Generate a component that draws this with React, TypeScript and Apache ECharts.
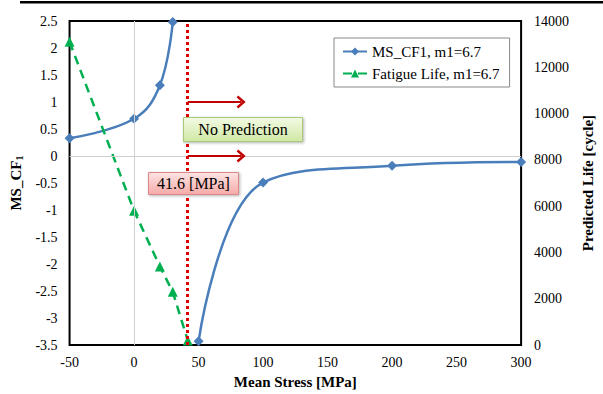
import React, { useEffect, useRef } from "react";
import * as echarts from "echarts";

const stressMs = [-50, 0, 20, 30, 40, 50, 100, 200, 300];
const msCf1 = [0.33, 0.69, 1.31, 2.48, null, -3.43, -0.49, -0.18, -0.11];
const stressLife = [-50, 0, 20, 30, 41.6];
const fatigueLife = [13100, 5800, 3400, 2300, 200];
const limitStress = 41.6;
const arrowEnd = 83;
const arrowLevels = [1, 0];
const legendNames = ["MS_CF1, m1=6.7", "Fatigue Life, m1=6.7"];

const SERIF = "'Liberation Serif', 'Times New Roman', serif";
const chevron = "path://M10,0 L20,10 L17,12 L10,5 L3,12 L0,10 Z";

export default function App() {
  const ref = useRef<HTMLDivElement>(null);
  useEffect(() => {
    if (!ref.current) return;
    const chart = echarts.init(ref.current, null, { renderer: "svg" });
    const tickLabel = { color: "#000", fontFamily: SERIF, fontSize: 14 };
    const nameStyle = { color: "#000", fontFamily: SERIF, fontSize: 15, fontWeight: "bold" as const };
    chart.setOption({
      animation: false,
      backgroundColor: "#fff",
      grid: { left: 69, right: 73, top: 21, bottom: 47, show: true, borderColor: "#000", borderWidth: 2, backgroundColor: "transparent" },
      legend: {
        data: legendNames,
        orient: "vertical",
        left: 334,
        top: 38,
        borderColor: "#888",
        borderWidth: 1,
        padding: [6, 10, 6, 8],
        itemWidth: 24,
        itemHeight: 10,
        itemGap: 7,
        textStyle: { color: "#000", fontFamily: SERIF, fontSize: 15 },
      },
      xAxis: {
        type: "value",
        min: -50,
        max: 300,
        interval: 50,
        name: "Mean Stress [MPa]",
        nameLocation: "middle",
        nameGap: 27,
        nameTextStyle: nameStyle,
        axisLine: { show: false },
        axisTick: { show: false },
        splitLine: { show: false },
        axisLabel: { ...tickLabel, margin: 10 },
      },
      yAxis: [
        {
          type: "value",
          min: -3.5,
          max: 2.5,
          interval: 0.5,
          name: "{a|MS_CF}{b|1}",
          nameLocation: "middle",
          nameRotate: 90,
          nameGap: 38,
          nameTextStyle: {
            ...nameStyle,
            rich: {
              a: { fontFamily: SERIF, fontSize: 15, fontWeight: "bold", color: "#000" },
              b: { fontFamily: SERIF, fontSize: 10, fontWeight: "bold", color: "#000", padding: [8, 0, 0, 0] },
            },
          },
          axisLine: { show: false },
          axisTick: { show: false },
          splitLine: { show: false },
          axisLabel: { ...tickLabel, margin: 12 },
        },
        {
          type: "value",
          min: 0,
          max: 14000,
          interval: 2000,
          position: "right",
          name: "Predicted Life [cycle]",
          nameLocation: "middle",
          nameRotate: 90,
          nameGap: 52,
          nameTextStyle: nameStyle,
          axisLine: { show: false },
          axisTick: { show: false },
          splitLine: { show: false },
          axisLabel: { ...tickLabel, margin: 13, formatter: (v: number) => String(v) },
        },
      ],
      series: [
        {
          type: "line",
          name: "zero-lines",
          data: [],
          z: 1,
          silent: true,
          markLine: {
            silent: true,
            symbol: ["none", "none"],
            label: { show: false },
            lineStyle: { color: "#d0d0d0", width: 1, type: "solid" },
            emphasis: { disabled: true },
            data: [{ xAxis: 0 }, { yAxis: 0 }],
          },
        },
        {
          type: "line",
          name: legendNames[0],
          data: stressMs.map((x, i) => [x, msCf1[i]]),
          yAxisIndex: 0,
          smooth: 0.4,
          connectNulls: false,
          symbol: "diamond",
          symbolSize: 10,
          itemStyle: { color: "#4A7EBB" },
          lineStyle: { color: "#4A7EBB", width: 2.5 },
          z: 3,
          markLine: {
            silent: true,
            symbol: ["none", "none"],
            label: { show: false },
            emphasis: { disabled: true },
            data: [
              { xAxis: limitStress, lineStyle: { color: "#E00000", width: 3, type: [3, 3] } },
              ...arrowLevels.map((lv) => [
                { coord: [limitStress, lv], symbol: "none", lineStyle: { color: "#C00000", width: 2, type: "solid" } },
                { coord: [arrowEnd, lv], symbol: chevron, symbolSize: [13, 9] },
              ]),
            ],
          },
        },
        {
          type: "line",
          name: legendNames[1],
          data: stressLife.map((x, i) => [x, fatigueLife[i]]),
          yAxisIndex: 1,
          symbol: "triangle",
          symbolSize: 10,
          itemStyle: { color: "#00B050" },
          lineStyle: { color: "#00B050", width: 2.5, type: [9, 6] },
          z: 3,
        },
      ],
      graphic: [
        { type: "rect", left: 20, top: 1, z: 100, shape: { width: 583, height: 2.5 }, style: { fill: "#000" }, silent: true },
        {
          type: "group",
          left: 183,
          top: 117,
          z: 100,
          children: [
            {
              type: "rect",
              z: 100,
              shape: { x: 0, y: 0, width: 119, height: 24 },
              style: {
                fill: new echarts.graphic.LinearGradient(0, 0, 0, 1, [
                  { offset: 0, color: "#f3fae3" },
                  { offset: 1, color: "#cfe8a6" },
                ]),
                stroke: "#a9c97a",
                lineWidth: 1,
                shadowBlur: 3,
                shadowOffsetX: 1,
                shadowOffsetY: 1,
                shadowColor: "rgba(0,0,0,0.3)",
              },
            },
            {
              type: "text",
              z: 101,
              style: { x: 59.5, y: 12, text: "No Prediction", fill: "#000", font: `16px ${SERIF}`, align: "center", verticalAlign: "middle" },
            },
          ],
        },
        {
          type: "group",
          left: 148,
          top: 172,
          z: 100,
          children: [
            {
              type: "rect",
              z: 100,
              shape: { x: 0, y: 0, width: 90, height: 22 },
              style: {
                fill: new echarts.graphic.LinearGradient(0, 0, 0, 1, [
                  { offset: 0, color: "#fde4e3" },
                  { offset: 1, color: "#f5aaa8" },
                ]),
                stroke: "#d98a88",
                lineWidth: 1,
                shadowBlur: 3,
                shadowOffsetX: 1,
                shadowOffsetY: 1,
                shadowColor: "rgba(0,0,0,0.3)",
              },
            },
            {
              type: "text",
              z: 101,
              style: { x: 45, y: 11, text: "41.6 [MPa]", fill: "#000", font: `16px ${SERIF}`, align: "center", verticalAlign: "middle" },
            },
          ],
        },
      ],
    });
    return () => chart.dispose();
  }, []);
  return <div ref={ref} style={{ position: "fixed", left: 0, top: 0, width: 603, height: 394 }} />;
}
